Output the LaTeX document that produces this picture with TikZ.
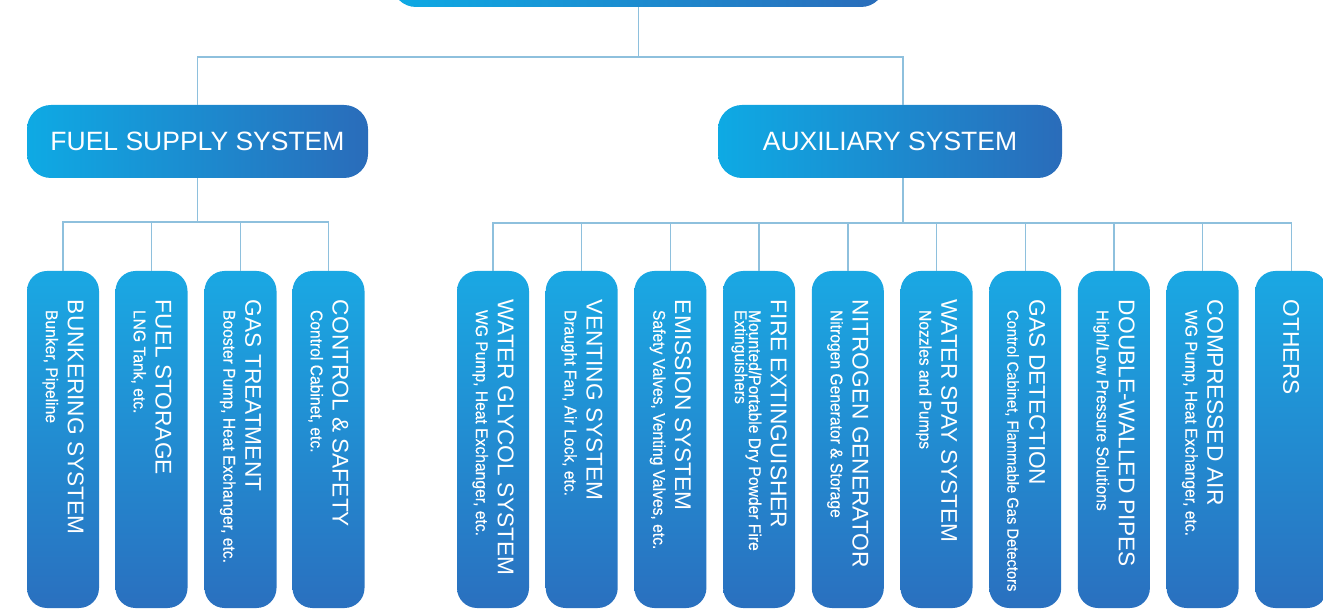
\documentclass[tikz,border=0pt]{standalone}
\usepackage{fontspec}
\setmainfont{Liberation Sans}
\newfontfamily\subfam[FakeStretch=0.92,FakeBold=0.4]{Liberation Sans}
\definecolor{lineblue}{HTML}{8EC0DD}
\definecolor{coltop}{HTML}{1AA8E3}
\definecolor{colbot}{HTML}{2A70BF}
\definecolor{headl}{HTML}{0EAAE4}
\definecolor{headr}{HTML}{2A6CBA}
\newcommand\ttl[1]{{\fontsize{22.7}{14}\selectfont #1}}
\newcommand\sbt[1]{\hspace*{10pt}{\subfam #1}}
\newcommand\colfont{\lineskiplimit=-100pt\relax\lineskip=0pt\relax\fontsize{17}{14}\selectfont}
\tikzset{
  conn/.style={draw=lineblue, line width=1.4pt},
  colbox/.style={rectangle, rounded corners=20pt, minimum width=72pt, minimum height=337pt, inner sep=0pt, top color=coltop, bottom color=colbot, draw=none},
  headbox/.style={rectangle, rounded corners=24pt, minimum height=73pt, inner sep=0pt, left color=headl, right color=headr, draw=none, text=white, font=\fontsize{26.5}{30}\selectfont},
  coltext/.style={rotate=-90, anchor=west, inner sep=0pt, text=white, align=left, font=\colfont}
}
\begin{document}
\begin{tikzpicture}[x=1pt,y=-1pt]
\useasboundingbox (0,0) rectangle (1323,609);
\clip (0,0) rectangle (1323,609);
% top box (its text lies outside the picture)
\node[headbox, minimum width=493pt, minimum height=80pt] (top) at (638.5,-33) {};
% second level
\node[headbox, minimum width=341pt] (fuel) at (197.5,141.5) {FUEL SUPPLY SYSTEM};
\node[headbox, minimum width=344pt] (aux) at (890,141.5) {AUXILIARY SYSTEM};
% fuel columns
\foreach \n/\x in {1/63,2/151.5,3/240.5,4/328.5}{
  \node[colbox] (f\n) at (\x,439.5) {};
}
% aux columns
\foreach \n in {1,...,10}{
  \pgfmathsetmacro\xx{493+88.7*(\n-1)}
  \node[colbox] (a\n) at (\xx,439.5) {};
}
% connectors
\coordinate (jtop) at (638.5,57);
\coordinate (auxtop) at ([xshift=13pt]aux.north);
\coordinate (auxbot) at ([xshift=13pt]aux.south);
\coordinate (fbus) at (197.5,222);
\coordinate (abus) at (903,223);
\draw[conn] (top.south) -- (jtop);
\draw[conn] (fuel.north) |- (jtop) -| (auxtop);
\draw[conn] (fuel.south) -- (fbus);
\foreach \n in {1,...,4}{\draw[conn] (f\n.north) |- (fbus);}
\draw[conn] (auxbot) -- (abus);
\foreach \n in {1,...,10}{\draw[conn] (a\n.north) |- (abus);}
% column texts
\node[coltext] (tf1) at ([yshift=-29pt]f1.north) {\ttl{BUNKERING SYSTEM}\\[8pt]\sbt{Bunker, Pipeline}};
\node[coltext] (tf2) at ([yshift=-29pt]f2.north) {\ttl{FUEL STORAGE}\\[8pt]\sbt{LNG Tank, etc.}};
\node[coltext] (tf3) at ([yshift=-29pt]f3.north) {\ttl{GAS TREATMENT}\\[8pt]\sbt{Booster Pump, Heat Exchanger, etc.}};
\node[coltext] (tf4) at ([yshift=-29pt]f4.north) {\ttl{CONTROL \& SAFETY}\\[8pt]\sbt{Control Cabinet, etc.}};
\node[coltext] (ta1) at ([yshift=-29pt]a1.north) {\ttl{WATER GLYCOL SYSTEM}\\[8pt]\sbt{WG Pump, Heat Exchanger, etc.}};
\node[coltext] (ta2) at ([yshift=-29pt]a2.north) {\ttl{VENTING SYSTEM}\\[8pt]\sbt{Draught Fan, Air Lock, etc.}};
\node[coltext] (ta3) at ([yshift=-29pt]a3.north) {\ttl{EMISSION SYSTEM}\\[8pt]\sbt{Safety Valves, Venting Valves, etc.}};
\node[coltext] (ta4) at ([yshift=-29pt]a4.north) {\ttl{FIRE EXTINGUISHER}\\[8pt]\sbt{Mounted/Portable Dry Powder Fire}\\\sbt{Extinguishers}};
\node[coltext] (ta5) at ([yshift=-29pt]a5.north) {\ttl{NITROGEN GENERATOR}\\[8pt]\sbt{Nitrogen Generator \& Storage}};
\node[coltext] (ta6) at ([yshift=-29pt]a6.north) {\ttl{WATER SPAY SYSTEM}\\[8pt]\sbt{Nozzles and Pumps}};
\node[coltext] (ta7) at ([yshift=-29pt]a7.north) {\ttl{GAS DETECTION}\\[8pt]\sbt{\fontsize{16}{14}\selectfont Control Cabinet, Flammable Gas Detectors}};
\node[coltext] (ta8) at ([yshift=-29pt]a8.north) {\ttl{DOUBLE-WALLED PIPES}\\[8pt]\sbt{High/Low Pressure Solutions}};
\node[coltext] (ta9) at ([yshift=-29pt]a9.north) {\ttl{COMPRESSED AIR}\\[8pt]\sbt{WG Pump, Heat Exchanger, etc.}};
\node[coltext] (ta10) at ([yshift=-29pt]a10.north) {\ttl{OTHERS}};
\end{tikzpicture}
\end{document}
